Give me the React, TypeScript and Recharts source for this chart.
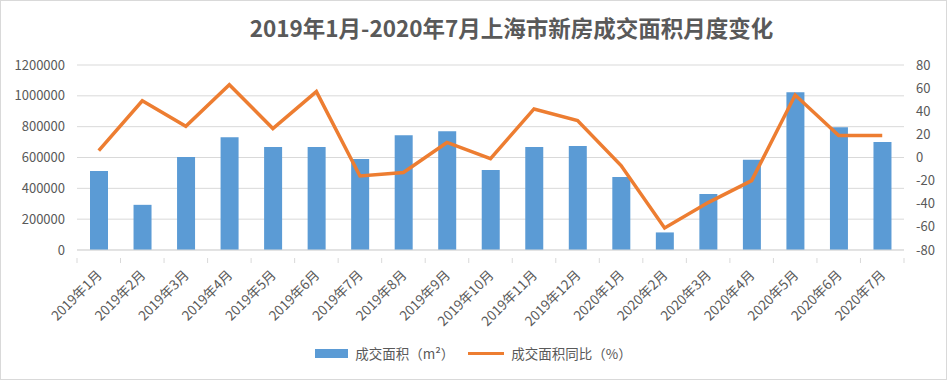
import {
  ComposedChart,
  Bar,
  Line,
  XAxis,
  YAxis,
  CartesianGrid,
  Legend,
} from "recharts";

const months = [
  "2019年1月", "2019年2月", "2019年3月", "2019年4月", "2019年5月",
  "2019年6月", "2019年7月", "2019年8月", "2019年9月", "2019年10月",
  "2019年11月", "2019年12月", "2020年1月", "2020年2月", "2020年3月",
  "2020年4月", "2020年5月", "2020年6月", "2020年7月",
];

const area = [
  512000, 293000, 603000, 732000, 668000, 668000, 590000, 745000, 771000,
  519000, 668000, 674000, 474000, 114000, 364000, 586000, 1023000, 797000,
  700000,
];

const yoy = [6, 49, 27, 63, 25, 57, -16, -13, 13, -1, 42, 32, -7, -61, -39, -20, 54, 19, 19];

const leftTicks = [0, 200000, 400000, 600000, 800000, 1000000, 1200000];
const rightTicks = [-80, -60, -40, -20, 0, 20, 40, 60, 80];

const chartData = months.map((m, i) => ({ month: m, area: area[i], yoy: yoy[i] }));

const FONT = '"Noto Sans CJK SC", "Noto Sans", sans-serif';
const BAR_COLOR = "#5B9BD5";
const LINE_COLOR = "#ED7D31";
const TEXT_COLOR = "#595959";

const W = 947;
const H = 380;
const PLOT_LEFT = 77;
const PLOT_RIGHT = 904;
const BAND = (PLOT_RIGHT - PLOT_LEFT) / months.length;

// Excel-like tick: label rotated -45, tick marks between categories
const MonthTick = ({ x, y, payload, index }: any) => {
  return (
    <g>
      <line x1={x - BAND / 2} y1={y} x2={x - BAND / 2} y2={y + 5} stroke="#d9d9d9" />
      {index === months.length - 1 && (
        <line x1={x + BAND / 2} y1={y} x2={x + BAND / 2} y2={y + 5} stroke="#d9d9d9" />
      )}
      <text
        x={x + 4}
        y={y + 18}
        textAnchor="end"
        transform={`rotate(-45, ${x + 4}, ${y + 18})`}
        fontSize={13.5}
        fill={TEXT_COLOR}
        fontFamily={FONT}
      >
        {payload.value}
      </text>
    </g>
  );
};

const LegendContent = () => (
  <div
    style={{
      display: "flex",
      justifyContent: "center",
      alignItems: "center",
      fontFamily: FONT,
      fontSize: 13.5,
      color: TEXT_COLOR,
    }}
  >
    <span style={{ display: "inline-block", width: 33, height: 9, background: BAR_COLOR, marginRight: 7 }} />
    <span style={{ marginRight: 14 }}>成交面积（m²）</span>
    <span style={{ display: "inline-block", width: 36, height: 3, background: LINE_COLOR, marginRight: 7 }} />
    <span>成交面积同比（%）</span>
  </div>
);

export default function App() {
  return (
    <div
      style={{
        position: "absolute",
        left: 0,
        top: 0,
        width: W,
        height: H,
        boxSizing: "border-box",
        border: "1px solid #d9d9d9",
        background: "#fff",
        fontFamily: FONT,
      }}
    >
      <div
        style={{
          position: "absolute",
          top: 10,
          left: 37,
          width: W,
          textAlign: "center",
          fontSize: 22.5,
          fontWeight: "bold",
          color: TEXT_COLOR,
          fontFamily: FONT,
        }}
      >
        2019年1月-2020年7月上海市新房成交面积月度变化
      </div>
      <div style={{ position: "absolute", left: -1, top: -1 }}>
        <ComposedChart
          width={W}
          height={H}
          data={chartData}
          margin={{ top: 65, right: 8, left: 12, bottom: 0 }}
          barCategoryGap={0}
        >
          <CartesianGrid vertical={false} stroke="#d9d9d9" yAxisId="left" />
          <XAxis
            dataKey="month"
            interval={0}
            height={110}
            tick={<MonthTick />}
            tickLine={false}
            axisLine={{ stroke: "#d9d9d9" }}
          />
          <YAxis
            yAxisId="left"
            width={65}
            domain={[0, 1200000]}
            ticks={leftTicks}
            interval={0}
            axisLine={false}
            tickLine={false}
            tick={{ fontSize: 13, fill: TEXT_COLOR, fontFamily: FONT }}
            tickMargin={6}
          />
          <YAxis
            yAxisId="right"
            orientation="right"
            width={35}
            domain={[-80, 80]}
            ticks={rightTicks}
            interval={0}
            axisLine={false}
            tickLine={false}
            tick={{ fontSize: 13, fill: TEXT_COLOR, fontFamily: FONT }}
            tickMargin={6}
          />
          <Legend
            content={<LegendContent />}
            wrapperStyle={{ position: "absolute", top: 343, left: 0, width: W }}
          />
          <Bar
            yAxisId="left"
            dataKey="area"
            name="成交面积（m²）"
            fill={BAR_COLOR}
            barSize={18}
            isAnimationActive={false}
          />
          <Line
            yAxisId="right"
            type="linear"
            dataKey="yoy"
            name="成交面积同比（%）"
            stroke={LINE_COLOR}
            strokeWidth={3.5}
            dot={false}
            isAnimationActive={false}
          />
        </ComposedChart>
      </div>
    </div>
  );
}
